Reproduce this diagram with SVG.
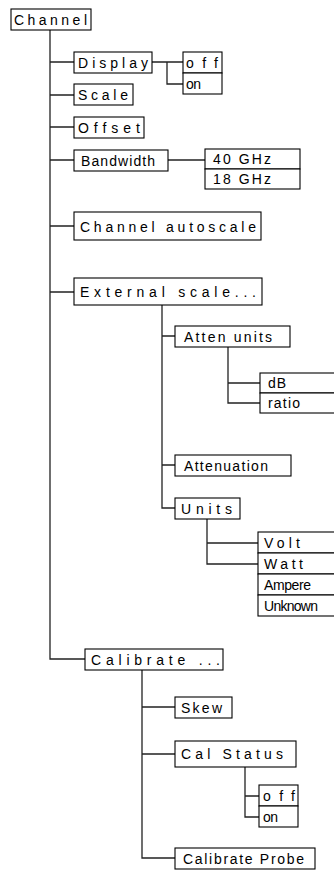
<svg xmlns="http://www.w3.org/2000/svg" width="334" height="872" viewBox="0 0 334 872">
<style>
.b{fill:#fff;stroke:#000;stroke-width:1.1}
.c{fill:none;stroke:#222;stroke-width:1.3}
text{font-family:"Liberation Sans","DejaVu Sans",sans-serif;font-size:14px;fill:#000}
</style>
<rect width="334" height="872" fill="#fff"/>
<g id="connectors" class="c">
<path d="M50,30V659H85"/>
<path d="M50,62H74M50,95H74M50,127H74M50,160H74M50,226H74M50,292H74"/>
<path d="M152,62H183M167,62V84H183"/>
<path d="M168,160H205"/>
<path d="M162,305V508H175M162,336H175M162,465H175"/>
<path d="M228,347V403H260M228,383H260"/>
<path d="M207,519V564H258M207,543H258"/>
<path d="M142,670V858H175M142,707H175M142,754H175"/>
<path d="M245,767V817H259M245,796H259"/>
</g>
<g id="channel"><rect class="b" x="11" y="9" width="80" height="21"/><text x="14" y="25" textLength="73" lengthAdjust="spacing">Channel</text></g>
<g id="display"><rect class="b" x="74" y="52" width="78" height="21"/><text x="78" y="68" textLength="70" lengthAdjust="spacing">Display</text></g>
<g id="display-off"><rect class="b" x="183" y="52" width="39" height="21"/><text x="186" y="68" textLength="32" lengthAdjust="spacing">off</text></g>
<g id="display-on"><rect class="b" x="183" y="73" width="39" height="21"/><text x="186" y="89" textLength="15" lengthAdjust="spacing">on</text></g>
<g id="scale"><rect class="b" x="74" y="84" width="59" height="21"/><text x="78" y="100" textLength="50" lengthAdjust="spacing">Scale</text></g>
<g id="offset"><rect class="b" x="74" y="117" width="70" height="21"/><text x="78" y="133" textLength="62" lengthAdjust="spacing">Offset</text></g>
<g id="bandwidth"><rect class="b" x="74" y="150" width="94" height="21"/><text x="81" y="166" textLength="74" lengthAdjust="spacing">Bandwidth</text></g>
<g id="bw40"><rect class="b" x="205" y="149" width="95" height="20"/><text x="213" y="164" textLength="58" lengthAdjust="spacing">40  GHz</text></g>
<g id="bw18"><rect class="b" x="205" y="169" width="95" height="20"/><text x="213" y="184" textLength="58" lengthAdjust="spacing">18  GHz</text></g>
<g id="autoscale"><rect class="b" x="74" y="212" width="187" height="28"/><text x="80" y="232" textLength="176" lengthAdjust="spacing">Channel autoscale</text></g>
<g id="external"><rect class="b" x="74" y="278" width="188" height="27"/><text x="80" y="297" textLength="176" lengthAdjust="spacing">External scale...</text></g>
<g id="atten-units"><rect class="b" x="175" y="326" width="115" height="21"/><text x="184" y="342" textLength="88" lengthAdjust="spacing">Atten  units</text></g>
<g id="db"><rect class="b" x="260" y="373" width="80" height="20"/><text x="268" y="388" textLength="18" lengthAdjust="spacing">dB</text></g>
<g id="ratio"><rect class="b" x="260" y="393" width="80" height="20"/><text x="268" y="408" textLength="32" lengthAdjust="spacing">ratio</text></g>
<g id="attenuation"><rect class="b" x="175" y="455" width="116" height="21"/><text x="184" y="471" textLength="84" lengthAdjust="spacing">Attenuation</text></g>
<g id="units"><rect class="b" x="175" y="498" width="65" height="21"/><text x="181" y="514" textLength="51" lengthAdjust="spacing">Units</text></g>
<g id="volt"><rect class="b" x="258" y="532" width="82" height="21"/><text x="264" y="548" textLength="36" lengthAdjust="spacing">Volt</text></g>
<g id="watt"><rect class="b" x="258" y="553" width="82" height="21"/><text x="264" y="569" textLength="39" lengthAdjust="spacing">Watt</text></g>
<g id="ampere"><rect class="b" x="258" y="574" width="82" height="21"/><text x="264" y="590" textLength="47" lengthAdjust="spacing">Ampere</text></g>
<g id="unknown"><rect class="b" x="258" y="595" width="82" height="21"/><text x="264" y="611" textLength="54" lengthAdjust="spacing">Unknown</text></g>
<g id="calibrate"><rect class="b" x="85" y="649" width="138" height="21"/><text x="91" y="665" textLength="129" lengthAdjust="spacing">Calibrate ...</text></g>
<g id="skew"><rect class="b" x="175" y="697" width="57" height="21"/><text x="181" y="713" textLength="41" lengthAdjust="spacing">Skew</text></g>
<g id="cal-status"><rect class="b" x="175" y="741" width="121" height="26"/><text x="181" y="759" textLength="102" lengthAdjust="spacing">Cal Status</text></g>
<g id="cal-off"><rect class="b" x="259" y="785" width="39" height="21"/><text x="263" y="801" textLength="32" lengthAdjust="spacing">off</text></g>
<g id="cal-on"><rect class="b" x="259" y="806" width="39" height="21"/><text x="263" y="822" textLength="15" lengthAdjust="spacing">on</text></g>
<g id="calibrate-probe"><rect class="b" x="175" y="848" width="140" height="21"/><text x="183" y="864" textLength="121" lengthAdjust="spacing">Calibrate  Probe</text></g>
</svg>
